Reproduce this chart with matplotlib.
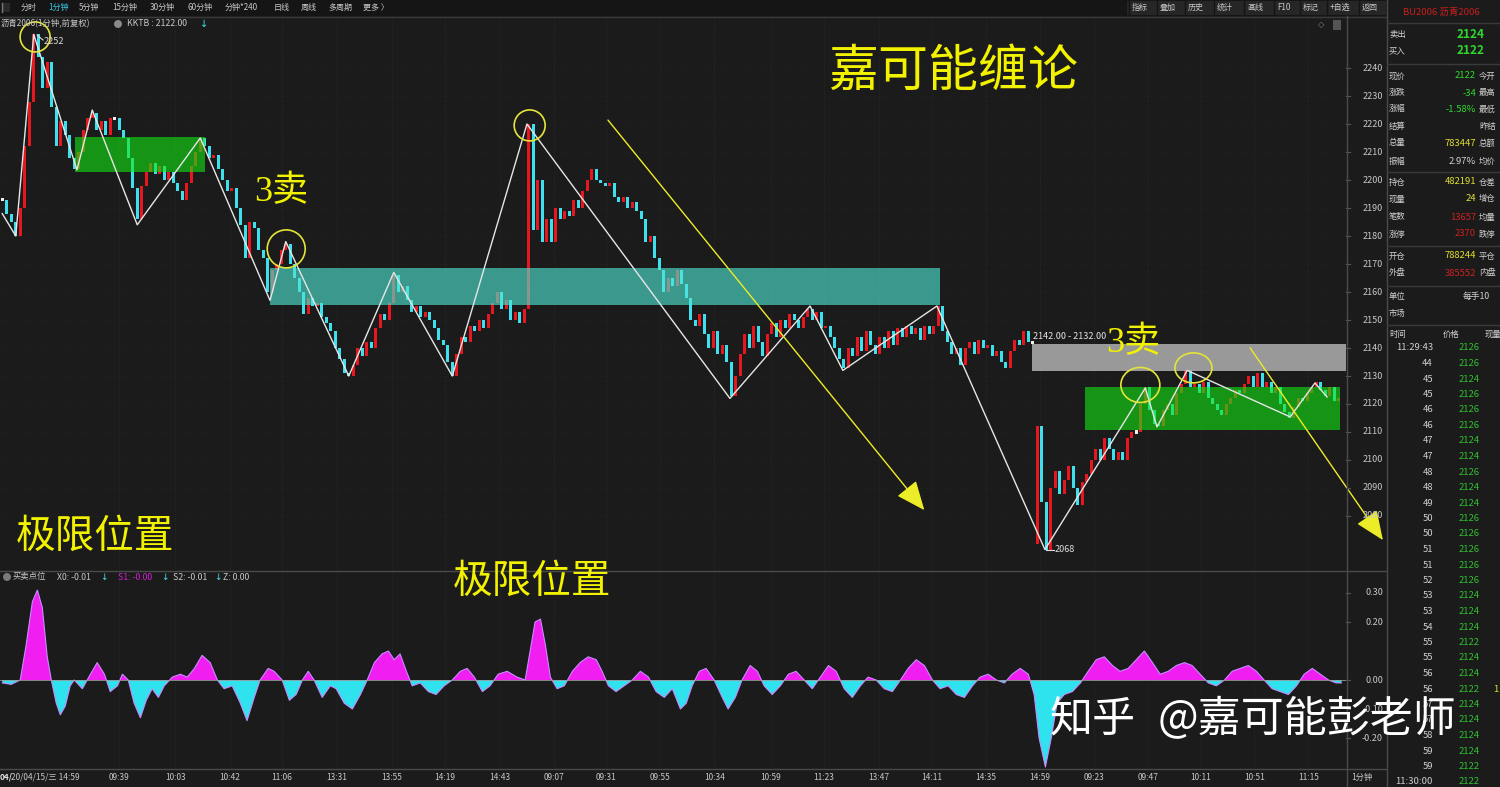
import matplotlib
matplotlib.use("Agg")
import matplotlib.pyplot as plt
from matplotlib.patches import Rectangle, Ellipse
from matplotlib.lines import Line2D
from matplotlib.transforms import blended_transform_factory as btf
import numpy as np

plt.rcParams['font.family'] = ['Noto Sans CJK SC', 'DejaVu Sans']

# ------------------------------------------------------------------ data
closes = [
    2193, 2188, 2185, 2180, 2190, 2212, 2228, 2252,
    2244, 2233, 2242, 2226, 2212, 2221, 2216, 2208, 2204,
    2210, 2218, 2222, 2224, 2218, 2221, 2216, 2222, 2222, 2218, 2215, 2208, 2197, 2186,
    2198, 2203, 2206, 2202, 2205, 2200, 2203, 2199, 2196, 2193, 2199, 2205, 2210, 2215,
    2212, 2208, 2209, 2204, 2200, 2196, 2197, 2190, 2184, 2172, 2185, 2183, 2175, 2172, 2160, 2168, 2170, 2175, 2177,
    2170, 2165, 2160, 2152, 2158, 2155, 2156, 2151, 2149, 2146, 2140, 2136, 2131, 2130,
    2134, 2140, 2137, 2142, 2140, 2147, 2152, 2150, 2156, 2166, 2160, 2162, 2157,
    2153, 2155, 2151, 2153, 2150, 2147, 2143, 2141, 2135, 2130,
    2138, 2144, 2142, 2148, 2146, 2150, 2147, 2152, 2156, 2160, 2154, 2157, 2150, 2153, 2149, 2154, 2220,
    2182, 2200, 2178, 2186, 2178, 2190, 2186, 2189, 2187, 2193, 2190, 2196, 2200, 2204, 2200, 2199, 2198, 2199,
    2194, 2192, 2194, 2190, 2192, 2189, 2186, 2178, 2180, 2172, 2168, 2160, 2165, 2162, 2168, 2163, 2158, 2150,
    2148, 2152, 2145, 2140, 2146, 2138, 2141, 2135, 2123,
    2130, 2138, 2145, 2140, 2148, 2142, 2137, 2145, 2149, 2144, 2150, 2147, 2152, 2150, 2147, 2151, 2154,
    2150, 2153, 2147, 2148, 2144, 2140, 2136, 2133,
    2140, 2137, 2144, 2139, 2146, 2141, 2138, 2144, 2140, 2146, 2141, 2147, 2144, 2148, 2145, 2147, 2143, 2148,
    2145, 2148, 2155,
    2146, 2142, 2138, 2140, 2134, 2140, 2142, 2138, 2143, 2140, 2141, 2137, 2139, 2135, 2133, 2139, 2143, 2141,
    2146, 2142, 2142,
    2112, 2085, 2068, 2090, 2096, 2088, 2093, 2098, 2090, 2084, 2092, 2095, 2100, 2104, 2100, 2108, 2104, 2100,
    2103, 2100, 2108, 2110, 2110, 2120, 2126,
    2118, 2113, 2112, 2118, 2120, 2116, 2124, 2127, 2132, 2126, 2127, 2124, 2128, 2122, 2120, 2118, 2116, 2120,
    2122, 2125, 2124, 2127, 2130, 2126, 2131, 2126, 2128, 2124, 2126, 2120, 2117, 2115, 2119, 2122, 2121, 2124,
    2126, 2128, 2125, 2123, 2126, 2121, 2122,
]
session_open_idx = 230
session_open_price = 2070

zz_idx = [0, 3, 7, 16.6, 20, 30, 44, 59.5, 63, 77, 87, 100, 116.6, 161.7, 179.5, 186.8,
          207.7, 213.3, 231.7, 254, 256.6, 263.3, 286.2, 291.7, 294.4]
zz_price = [2188, 2180, 2252, 2203.6, 2225, 2184, 2215, 2157, 2178, 2130, 2167, 2130, 2220,
            2122, 2155, 2132, 2155, 2134.6, 2068, 2125.7, 2111.8, 2132, 2115.4, 2127.5, 2122.5]

price_ticks = [2080, 2090, 2100, 2110, 2120, 2130, 2140, 2150, 2160, 2170, 2180, 2190,
               2200, 2210, 2220, 2230, 2240]

time_idx = [25.9, 38.4, 50.6, 62.2, 74.4, 86.6, 98.4, 110.6, 122.6, 134.2, 146.2, 158.2,
            170.8, 182.6, 194.8, 206.6, 218.6, 230.6, 242.6, 254.6, 266.4, 278.2, 290.2]
time_labels = ['09:39', '10:03', '10:42', '11:06', '13:31', '13:55', '14:19', '14:43',
               '09:07', '09:31', '09:55', '10:34', '10:59', '11:23', '13:47', '14:11',
               '14:35', '14:59', '09:23', '09:47', '10:11', '10:51', '11:15']

zone_i0 = [16.2, 59.5, 228.8, 240.6]
zone_i1 = [45.1, 208.4, 298.6, 297.3]
zone_lo = [2202.9, 2155.4, 2131.8, 2110.7]
zone_hi = [2215.4, 2168.6, 2141.4, 2126.1]

circle_idx = [7.3, 63.1, 117.2, 252.9, 264.7]
circle_price = [2251.1, 2175.4, 2219.5, 2126.8, 2132.9]

arrow_from_idx = [134.6, 277.3]
arrow_from_price = [2221.4, 2140.0]
arrow_to_idx = [204.9, 306.8]
arrow_to_price = [2082.1, 2071.4]

osc_x = [
    0, 2, 4, 5.3, 6.7, 7.8, 8.9, 10, 10.9, 12,
    12.9, 14, 15.1, 16, 17.8, 19.6, 21.1, 22.7, 24, 25.6,
    26.7, 28, 29.3, 30.7, 32, 33.3, 34.7, 36, 37.8, 39.6,
    41.1, 42.7, 44.4, 46.2, 47.8, 49.3, 51.1, 52.9, 54.4, 56,
    57.3, 59.1, 60.4, 62.2, 63.8, 65.3, 66.7, 68, 69.3, 71.1,
    72.9, 74.2, 76, 77.8, 79.6, 81.1, 82.7, 84.4, 85.8, 87.1,
    88.4, 89.8, 91.1, 92.9, 94.7, 96.4, 98.2, 100, 101.8, 103.3,
    104.9, 106.7, 108.4, 110.2, 112.2, 114.4, 116.2, 117.3, 118.4, 119.6,
    120.7, 121.8, 123.3, 124.9, 126.7, 128.4, 130.2, 132, 133.3, 134.7,
    136.4, 138.2, 140, 141.8, 143.6, 145.3, 147.1, 148.9, 150.7, 152,
    153.3, 154.9, 156.4, 158.2, 160, 161.3, 162.9, 164.4, 166.2, 167.8,
    169.3, 171.1, 172.9, 174.7, 176.4, 178.2, 180, 181.8, 183.6, 185.3,
    187.1, 188.9, 190.7, 192.4, 194.2, 196, 197.8, 199.6, 201.3, 203.1,
    204.9, 206.7, 208.4, 210.2, 212, 213.8, 215.6, 217.3, 219.1, 220.9,
    222.7, 224.4, 226.2, 228, 229.3, 230.4, 231.8, 233.1, 234.4, 236,
    237.8, 239.6, 241.3, 243.1, 244.9, 246.7, 248.4, 250.2, 252, 253.8,
    255.6, 257.3, 259.1, 260.9, 262.7, 264.4, 266.2, 268, 269.8, 271.6,
    273.3, 275.1, 276.9, 278.7, 280.4, 282.2, 284, 285.8, 287.6, 289.3,
    291.1, 292.9, 294.7, 296.4, 297.6,
]
osc_v = [
    -0.01, -0.015, 0.0, 0.12, 0.27, 0.31, 0.25, 0.08, 0.0, -0.08,
    -0.12, -0.09, -0.02, 0.0, -0.03, 0.02, 0.06, 0.02, -0.04, -0.02,
    0.02, 0.0, -0.08, -0.13, -0.07, -0.03, -0.06, -0.02, 0.01, 0.02,
    0.01, 0.04, 0.085, 0.06, 0.0, -0.03, -0.02, -0.08, -0.14, -0.06,
    0.0, 0.04, 0.03, 0.0, -0.07, -0.05, 0.0, 0.03, 0.0, -0.06,
    -0.02, -0.03, -0.08, -0.10, -0.05, 0.0, 0.06, 0.09, 0.10, 0.07,
    0.09, 0.03, -0.02, -0.01, -0.04, -0.05, -0.02, 0.0, 0.03, 0.04,
    0.01, -0.04, -0.02, 0.02, 0.03, 0.01, 0.0, 0.10, 0.20, 0.21,
    0.12, 0.01, -0.03, -0.02, 0.03, 0.06, 0.08, 0.07, 0.03, -0.02,
    -0.04, -0.02, 0.0, 0.03, 0.01, -0.04, -0.06, -0.03, -0.10, -0.08,
    -0.02, 0.03, 0.04, 0.0, -0.06, -0.10, -0.06, 0.0, 0.05, 0.03,
    -0.02, -0.05, -0.02, 0.02, 0.03, 0.0, -0.03, 0.01, 0.05, 0.03,
    -0.03, -0.06, -0.02, 0.01, 0.0, -0.03, -0.04, 0.0, 0.04, 0.07,
    0.05, 0.0, -0.03, -0.02, -0.05, -0.06, -0.02, 0.01, 0.02, 0.0,
    -0.01, 0.02, 0.04, 0.02, -0.05, -0.20, -0.30, -0.20, -0.08, -0.05,
    -0.04, -0.01, 0.03, 0.07, 0.08, 0.05, 0.03, 0.04, 0.07, 0.10,
    0.06, 0.02, 0.03, 0.05, 0.06, 0.05, 0.02, -0.01, -0.02, 0.0,
    0.03, 0.04, 0.05, 0.03, 0.0, -0.03, -0.04, -0.05, -0.02, 0.02,
    0.04, 0.02, 0.0, -0.01, -0.01,
]
osc_ticks = [0.30, 0.20, 0.00, -0.10, -0.20]

toolbar_items = ['分时', '1分钟', '5分钟', '15分钟', '30分钟', '60分钟', '分钟*240', '日线', '周线', '多周期', '更多 〉']
toolbar_buttons = ['指标', '叠加', '历史', '统计', '画线', 'F10', '标记', '+自选', '返回']

quote_left = ['现价', '涨跌', '涨幅', '结算', '总量', '振幅', '持仓', '现量', '笔数', '涨停', '开仓', '外盘']
quote_vals = ['2122', '-34', '-1.58%', '', '783447', '2.97%', '482191', '24', '13657', '2370', '788244', '385552']
quote_right = ['今开', '最高', '最低', '昨结', '总额', '均价', '仓差', '增仓', '均量', '跌停', '平仓', '内盘']
quote_kind = ['g', 'g', 'g', 'w', 'y', 'w', 'y', 'y', 'r', 'r', 'y', 'r']

tick_times = ['11:29:43', '44', '45', '45', '46', '46', '47', '47', '48', '48', '49', '50', '50', '51',
              '51', '52', '53', '53', '54', '55', '55', '56', '56', '57', '57', '58', '59', '59', '11:30:00']
tick_prices = [2126, 2126, 2124, 2126, 2126, 2126, 2124, 2124, 2126, 2124, 2124, 2126, 2126, 2126,
               2126, 2126, 2124, 2124, 2124, 2122, 2124, 2124, 2122, 2124, 2124, 2124, 2124, 2122, 2122]

# ------------------------------------------------------------------ style
W, H = 1500, 787
BG = '#1b1b1b'
RED = '#e8161e'
CYAN = '#3ee0ee'
WHITE = '#eeeeee'
YEL = '#f2f200'
TXT = '#c8c8c8'
LINE = '#3a3a3a'
VAL_COL = {'g': '#2fd82f', 'y': '#e0e030', 'r': '#cc2222', 'w': '#d0d0d0'}

fig = plt.figure(figsize=(W / 100, H / 100), dpi=100)
fig.patch.set_facecolor(BG)


def ftext(x, y, s, **kw):
    kw.setdefault('va', 'center')
    kw.setdefault('ha', 'left')
    kw.setdefault('color', TXT)
    return fig.text(x / W, 1 - y / H, s, **kw)


def fline(x0, y0, x1, y1, color=LINE, lw=1.0, **kw):
    fig.add_artist(Line2D([x0 / W, x1 / W], [1 - y0 / H, 1 - y1 / H], color=color, lw=lw,
                          transform=fig.transFigure, **kw))


def frect(x, y, w, h, color, **kw):
    fig.add_artist(Rectangle((x / W, 1 - (y + h) / H), w / W, h / H, transform=fig.transFigure,
                             facecolor=color, edgecolor='none', **kw))


def fcirc(x, y, d, color, **kw):
    fig.add_artist(Ellipse((x / W, 1 - y / H), d / W, d / H, transform=fig.transFigure,
                           facecolor=color, edgecolor='none', **kw))


def clean(a):
    a.set_facecolor(BG)
    a.set_xticks([])
    a.set_yticks([])
    for s in a.spines.values():
        s.set_visible(False)


# ------------------------------------------------------------------ main price axes
PX_BAR = 4.5
PX_PRICE = 2.8
ax = fig.add_axes([0, 1 - 569 / H, 1346 / W, (569 - 18) / H])
clean(ax)
ax.set_xlim(-0.5, 298.6)
ax.set_ylim(2061.07, 2257.86)

for t in time_idx:
    ax.axvline(t, color='#2d2d2d', lw=0.6, ls=(0, (1, 2)), zorder=1)
for p in price_ticks:
    ax.axhline(p, color='#262626', lw=0.6, ls=(0, (1, 3)), zorder=1)

opens = [closes[0]] + closes[:-1]
opens[session_open_idx] = session_open_price
xs, bots, hts, cols = [], [], [], []
for i, (o, c) in enumerate(zip(opens, closes)):
    lo, hi = min(o, c), max(o, c)
    if c > o:
        col = RED
    elif c < o:
        col = CYAN
    else:
        col = WHITE
        lo, hi = lo - 0.6, hi + 0.6
    xs.append(i)
    bots.append(lo)
    hts.append(hi - lo)
    cols.append(col)
ax.bar(xs, hts, bottom=bots, width=0.68, color=cols, lw=0, zorder=3)

zone_colors = ['#12e612', '#4ee6d4', '#a8a8a8', '#12e612']
zone_alpha = [0.6, 0.62, 0.9, 0.6]
for i0, i1, lo, hi, zc, za in zip(zone_i0, zone_i1, zone_lo, zone_hi, zone_colors, zone_alpha):
    ax.add_patch(Rectangle((i0, lo), i1 - i0, hi - lo, facecolor=zc, edgecolor='none',
                           alpha=za, zorder=4))

ax.plot(zz_idx, zz_price, color='#e6e6e6', lw=1.0, zorder=5)

circ_w = [30, 38, 31, 39, 37]
circ_h = [30, 38, 31, 35, 30]
for ci, cp, cw, ch in zip(circle_idx, circle_price, circ_w, circ_h):
    ax.add_patch(Ellipse((ci, cp), cw / PX_BAR, ch / PX_PRICE, facecolor='none',
                         edgecolor='#e4e43a', lw=1.2, zorder=6))

for fi, fp, ti, tp in zip(arrow_from_idx, arrow_from_price, arrow_to_idx, arrow_to_price):
    ann = ax.annotate('', xy=(ti, tp), xytext=(fi, fp),
                      arrowprops=dict(arrowstyle='-|>,head_length=1.3,head_width=0.55',
                                      color='#ecec28', lw=1.0, shrinkA=0, shrinkB=0,
                                      mutation_scale=14),
                      annotation_clip=False, zorder=7)
    ann.arrow_patch.set_clip_on(False)

# right price labels
tr_main = btf(fig.transFigure, ax.transData)
for p in price_ticks:
    fig.text(1383 / W, p, f'{p}', transform=tr_main, ha='right', va='center', color=TXT, fontsize=6.5)
    fig.add_artist(Line2D([1346 / W, 1350 / W], [p, p], transform=tr_main, color='#555555', lw=0.8))

# ------------------------------------------------------------------ oscillator axes
ax2 = fig.add_axes([0, 1 - 768 / H, 1346 / W, (768 - 572) / H])
clean(ax2)
ax2.set_xlim(-0.5, 298.6)
ax2.set_ylim(-0.3034, 0.3724)
for t in time_idx:
    ax2.axvline(t, color='#2d2d2d', lw=0.6, ls=(0, (1, 2)), zorder=1)
ox = np.array(osc_x, dtype=float)
ov = np.array(osc_v, dtype=float)
ax2.fill_between(ox, ov, 0, where=ov >= 0, interpolate=True, color='#f01ef0', lw=0, zorder=3)
ax2.fill_between(ox, ov, 0, where=ov <= 0, interpolate=True, color='#2ee2ee', lw=0, zorder=3)
ax2.plot(ox, ov, color='#c78cff', lw=0.8, zorder=4)
ax2.axhline(0, color='#9a9a9a', lw=0.6, zorder=4)
tr_osc = btf(fig.transFigure, ax2.transData)
for v in osc_ticks:
    fig.text(1383 / W, v, f'{v:.2f}', transform=tr_osc, ha='right', va='center', color=TXT, fontsize=6.5)
    fig.add_artist(Line2D([1346 / W, 1350 / W], [v, v], transform=tr_osc, color='#555555', lw=0.8))

# ------------------------------------------------------------------ frame lines / bands
frect(0, 0, 1386, 16, '#151515')
fline(0, 16.5, 1386, 16.5)
fline(0, 570.5, 1386, 570.5, color='#4a4a4a')
fline(0, 768.5, 1386, 768.5, color='#4a4a4a')
fline(1346.5, 16, 1346.5, 787, color='#4a4a4a')
fline(1386.5, 0, 1386.5, 787, color='#4a4a4a')

# toolbar
frect(2, 3, 8, 9, '#2a2a2a')
fline(2, 3, 2, 12, color='#777777')
tb_x = [21, 48, 79, 112, 150, 187, 225, 274, 301, 328, 363]
for s, x in zip(toolbar_items, tb_x):
    ftext(x, 7.5, s, fontsize=5.8, color='#3cc8e6' if s == '1分钟' else TXT)
btn_x = [1132, 1160, 1188, 1217, 1247, 1277, 1303, 1330, 1362]
frect(1127, 1, 259, 14, '#262626')
for s, x in zip(toolbar_buttons, btn_x):
    ftext(x, 7.5, s, fontsize=5.8)
    fline(x - 3.5, 1, x - 3.5, 15, color='#141414')

# second row
ftext(1, 24, '沥青2006(1分钟,前复权)', fontsize=6.0)
fcirc(118, 24, 8, '#8a8a8a')
ftext(127, 24, 'KKTB : 2122.00', fontsize=6.3)
ftext(200, 24, '↓', fontsize=7, color='#3ee0ee', family=['DejaVu Sans'])
ftext(1318, 25, '◇', fontsize=6, color='#888888', family=['DejaVu Sans'])
frect(1333, 20, 8, 10, '#555555')

# oscillator header
fcirc(7, 577, 8, '#7a7a7a')
ftext(13, 577, '买卖点位', fontsize=6.0)
ftext(57, 577, 'X0: -0.01', fontsize=6.3)
ftext(100, 577, '↓', fontsize=6.5, color='#3ee0ee', family=['DejaVu Sans'])
ftext(118, 577, 'S1: -0.00', fontsize=6.3, color='#d41ed4')
ftext(161, 577, '↓', fontsize=6.5, color='#3ee0ee', family=['DejaVu Sans'])
ftext(173, 577, 'S2: -0.01', fontsize=6.3)
ftext(214, 577, '↓', fontsize=6.5, color='#3ee0ee', family=['DejaVu Sans'])
ftext(223, 577, 'Z: 0.00', fontsize=6.3)

# time axis labels
tr_time = btf(ax.transData, fig.transFigure)
for t, s in zip(time_idx, time_labels):
    fig.text(t, 1 - 777 / H, s, transform=tr_time, ha='center', va='center', color=TXT, fontsize=6.0)
ftext(0, 777, '04/', fontsize=6.0, weight='bold', color='#e0e0e0')
ftext(11, 777, '20/04/15/三 14:59', fontsize=6.0)
ftext(1351, 777, '1分钟', fontsize=6.0)

# price labels
fline(37, 35, 43, 40, color='#dddddd', lw=0.8)
ftext(44, 41, '2252', fontsize=6.5, color='#dddddd')
fline(1046, 550, 1054, 550, color='#dddddd', lw=0.8)
ftext(1055, 550, '2068', fontsize=6.5, color='#dddddd')
ftext(1033, 337, '2142.00 - 2132.00', fontsize=6.5, color='#e6e6e6')

# ------------------------------------------------------------------ right quote panel
ftext(1403, 12, 'BU2006 沥青2006', fontsize=6.8, color='#c81e1e')
fline(1387, 22.5, 1500, 22.5)
ftext(1389, 34, '卖出', fontsize=6.0, color='#d0d0d0')
ftext(1485, 34, '2124', fontsize=8.5, weight='bold', color='#2fd82f', ha='right')
ftext(1389, 51, '买入', fontsize=6.0, color='#d0d0d0')
ftext(1485, 51, '2122', fontsize=8.5, weight='bold', color='#2fd82f', ha='right')
fline(1387, 63.5, 1500, 63.5)
row_y = [76, 93, 109, 126, 143, 161, 182, 199, 217, 234, 256, 273]
for y, l, v, r, k in zip(row_y, quote_left, quote_vals, quote_right, quote_kind):
    ftext(1389, y, l, fontsize=6.0, color='#d0d0d0')
    ftext(1476, y, v, fontsize=6.8, color=VAL_COL[k], ha='right')
    ftext(1479, y, r, fontsize=6.0, color='#d0d0d0')
for y in [171.5, 245.5, 285.5, 324.5]:
    fline(1387, y, 1500, y)
ftext(1389, 296, '单位', fontsize=6.0, color='#d0d0d0')
ftext(1463, 296, '每手10', fontsize=6.3, color='#d0d0d0')
ftext(1389, 313, '市场', fontsize=6.0, color='#d0d0d0')
ftext(1389, 334, '时间', fontsize=6.0, color='#d0d0d0')
ftext(1443, 334, '价格', fontsize=6.0, color='#d0d0d0')
ftext(1485, 334, '现量', fontsize=6.0, color='#d0d0d0')
for k, (tt, tp) in enumerate(zip(tick_times, tick_prices)):
    y = 348 + 15.5 * k
    ftext(1433, y, tt, fontsize=6.8, color='#d0d0d0', ha='right')
    ftext(1480, y, f'{tp}', fontsize=6.8, color='#30c030', ha='right')
ftext(1493, 348 + 15.5 * 22, '1', fontsize=6.8, color='#e0e030')

# ------------------------------------------------------------------ annotations (yellow)
ftext(953, 72, '嘉可能缠论', fontsize=36, color=YEL, ha='center')
ftext(281, 192, '3卖', fontsize=26, color=YEL, ha='center', family=['Liberation Serif', 'Noto Sans CJK SC'])
ftext(1133, 343, '3卖', fontsize=26, color=YEL, ha='center', family=['Liberation Serif', 'Noto Sans CJK SC'])
ftext(95, 537, '极限位置', fontsize=28.5, color=YEL, ha='center')
ftext(532, 582, '极限位置', fontsize=28.5, color=YEL, ha='center')

# watermark
ftext(1050, 720, '知乎', fontsize=31, color='#ffffff', zorder=20)
ftext(1158, 720, '@嘉可能彭老师', fontsize=31, color='#ffffff', zorder=20)

fig.savefig('out.png', dpi=100, facecolor=BG)
